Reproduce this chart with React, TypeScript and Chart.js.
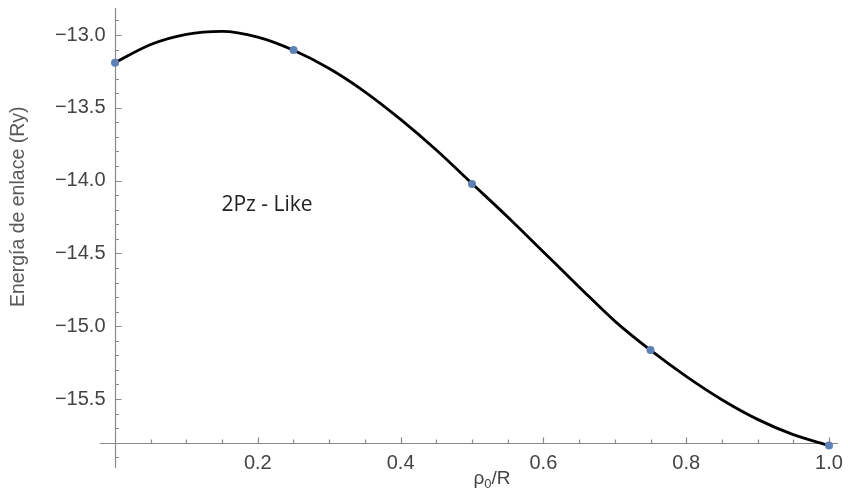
import React, { useEffect, useRef } from "react";
import { Chart, registerables } from "chart.js";

Chart.register(...registerables);

// Smooth curve
const curveX = [0, 0.05, 0.1, 0.15, 0.2, 0.25, 0.3, 0.35, 0.4, 0.45, 0.5, 0.55, 0.6, 0.65, 0.7, 0.75, 0.8, 0.85, 0.9, 0.95, 1.0];
const curveY = [-13.19, -13.065, -12.995, -12.975, -13.015, -13.105, -13.23, -13.39, -13.58, -13.79, -14.02, -14.25, -14.49, -14.73, -14.965, -15.165, -15.345, -15.505, -15.64, -15.745, -15.82];

// Computed points (markers)
const pointX = [0, 0.25, 0.5, 0.75, 1.0];
const pointY = [-13.19, -13.103, -14.023, -15.163, -15.82];

// Axis ticks
const xMajorTicks = [0.2, 0.4, 0.6, 0.8, 1.0];
const xTickLabels = ["0.2", "0.4", "0.6", "0.8", "1.0"];
const xMinorTicks = [0.05, 0.1, 0.15, 0.25, 0.3, 0.35, 0.45, 0.5, 0.55, 0.65, 0.7, 0.75, 0.85, 0.9, 0.95];
const yMajorTicks = [-15.5, -15.0, -14.5, -14.0, -13.5, -13.0];
const yTickLabels = ["\u221215.5", "\u221215.0", "\u221214.5", "\u221214.0", "\u221213.5", "\u221213.0"];
const yMinorTicks = [-15.9, -15.7, -15.6, -15.4, -15.3, -15.2, -15.1, -14.9, -14.8, -14.7, -14.6, -14.4, -14.3, -14.2, -14.1, -13.9, -13.8, -13.7, -13.6, -13.4, -13.3, -13.2, -13.1, -12.9];

const axisOriginX = 0;
const axisOriginY = -15.8;
const yTitle = "Energía de enlace (Ry)";
const annotation = "2Pz - Like";

const mmaAxes = {
  id: "mmaAxes",
  beforeDatasetsDraw(chart: any) {
    const { ctx, scales } = chart;
    const xs = scales.x;
    const ys = scales.y;
    const x0 = Math.round(xs.getPixelForValue(axisOriginX)) + 0.5;
    const y0 = Math.round(ys.getPixelForValue(axisOriginY)) + 0.5;
    ctx.save();
    ctx.strokeStyle = "#8a8a8a";
    ctx.lineWidth = 1.2;
    // axes
    ctx.beginPath();
    ctx.moveTo(x0, ys.top);
    ctx.lineTo(x0, ys.bottom);
    ctx.moveTo(xs.left, y0);
    ctx.lineTo(xs.right, y0);
    ctx.stroke();
    // y ticks
    ctx.beginPath();
    yMajorTicks.forEach((v) => {
      const p = Math.round(ys.getPixelForValue(v)) + 0.5;
      ctx.moveTo(x0, p);
      ctx.lineTo(x0 + 6, p);
    });
    yMinorTicks.forEach((v) => {
      const p = Math.round(ys.getPixelForValue(v)) + 0.5;
      ctx.moveTo(x0, p);
      ctx.lineTo(x0 + 3.5, p);
    });
    // x ticks
    xMajorTicks.forEach((v) => {
      const p = Math.round(xs.getPixelForValue(v)) + 0.5;
      ctx.moveTo(p, y0);
      ctx.lineTo(p, y0 - 6);
    });
    xMinorTicks.forEach((v) => {
      const p = Math.round(xs.getPixelForValue(v)) + 0.5;
      ctx.moveTo(p, y0);
      ctx.lineTo(p, y0 - 4);
    });
    ctx.stroke();

    // tick labels
    ctx.fillStyle = "#444444";
    ctx.font = '20px "Liberation Sans", Arial, sans-serif';
    ctx.textAlign = "right";
    ctx.textBaseline = "middle";
    yMajorTicks.forEach((v, i) => {
      ctx.fillText(yTickLabels[i], x0 - 10, ys.getPixelForValue(v));
    });
    ctx.textAlign = "center";
    ctx.textBaseline = "top";
    xMajorTicks.forEach((v, i) => {
      ctx.fillText(xTickLabels[i], xs.getPixelForValue(v), y0 + 10);
    });

    // x title: rho_0/R
    ctx.fillStyle = "#444444";
    ctx.textBaseline = "alphabetic";
    ctx.textAlign = "left";
    const bigFont = '19px "Liberation Sans", Arial, sans-serif';
    const subFont = '13px "Liberation Sans", Arial, sans-serif';
    ctx.font = bigFont;
    const wRho = ctx.measureText("\u03c1").width;
    const wR = ctx.measureText("/R").width;
    ctx.font = subFont;
    const wSub = ctx.measureText("0").width;
    const total = wRho + wSub + wR;
    const cx = xs.getPixelForValue(0.528);
    let sx = cx - total / 2;
    const base = y0 + 40;
    ctx.font = bigFont;
    ctx.fillText("\u03c1", sx, base);
    sx += wRho;
    ctx.font = subFont;
    ctx.fillText("0", sx, base + 4);
    sx += wSub;
    ctx.font = bigFont;
    ctx.fillText("/R", sx, base);

    // y title
    ctx.save();
    ctx.translate(19, ys.getPixelForValue(-14.18));
    ctx.rotate(-Math.PI / 2);
    ctx.textAlign = "center";
    ctx.textBaseline = "middle";
    ctx.fillStyle = "#5a5a5a";
    ctx.font = '19.5px "Liberation Sans", Arial, sans-serif';
    ctx.fillText(yTitle, 0, 0);
    ctx.restore();

    // annotation
    ctx.fillStyle = "#222222";
    ctx.font = '21px "Open Sans", sans-serif';
    ctx.textAlign = "left";
    ctx.textBaseline = "middle";
    ctx.fillText(annotation, xs.getPixelForValue(0.149), ys.getPixelForValue(-14.17));
    ctx.restore();
  },
};

export default function App() {
  const ref = useRef<HTMLCanvasElement | null>(null);
  useEffect(() => {
    if (!ref.current) return;
    const chart = new Chart(ref.current, {
      type: "line",
      data: {
        datasets: [
          {
            label: "points",
            data: pointX.map((x, i) => ({ x, y: pointY[i] })),
            showLine: false,
            pointRadius: 4,
            pointBackgroundColor: "#5E81B5",
            pointBorderWidth: 0,
            pointBorderColor: "#5E81B5",
            order: 0,
          },
          {
            label: "curve",
            data: curveX.map((x, i) => ({ x, y: curveY[i] })),
            borderColor: "#000000",
            borderWidth: 2.8,
            pointRadius: 0,
            fill: false,
            cubicInterpolationMode: "monotone",
            order: 1,
          },
        ],
      },
      options: {
        animation: false,
        responsive: false,
        devicePixelRatio: 1,
        layout: { padding: { left: 100, top: 8, right: 10, bottom: 23 } },
        scales: {
          x: { type: "linear", min: -0.021, max: 1.0126, display: false },
          y: { type: "linear", min: -15.974, max: -12.8146, display: false },
        },
        plugins: {
          legend: { display: false },
          tooltip: { enabled: false },
        },
        clip: false as any,
      },
      plugins: [mmaAxes],
    });
    return () => chart.destroy();
  }, []);
  return (
    <div style={{ position: "absolute", left: 0, top: 0, width: 848, height: 491, background: "#fff" }}>
      <canvas ref={ref} width={848} height={491} style={{ width: 848, height: 491 }} />
    </div>
  );
}
